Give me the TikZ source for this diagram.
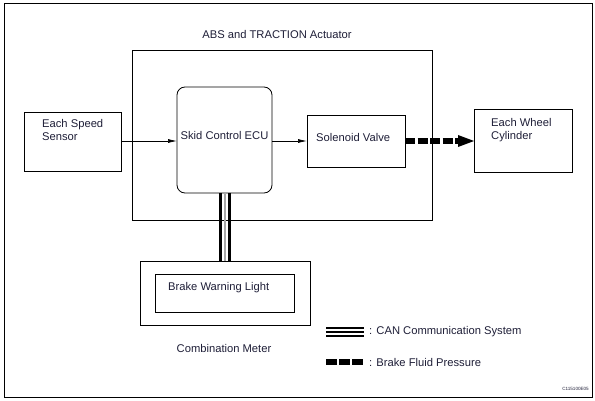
\documentclass[tikz,border=0pt]{standalone}
\usepackage{fontspec}
\setmainfont{Liberation Sans}
\usetikzlibrary{arrows.meta}
\definecolor{txt}{RGB}{30,30,55}
\begin{document}
\begin{tikzpicture}[x=1pt,y=-1pt,
  box/.style={draw,line width=0.8pt},
  lbl/.style={text=txt,font=\fontsize{11.2}{13}\selectfont,inner sep=0pt},
  sig/.style={line width=0.7pt,-{Latex[length=9pt,width=4pt]}}]
\useasboundingbox (0,0) rectangle (595,401);
\draw[line width=0.9pt] (4,3) rectangle (592,397);
% actuator
\draw[box] (132,50) rectangle (432,220);
\node[lbl] (abs) at (277,34) {ABS and TRACTION Actuator};
% speed sensor
\draw[box] (24,112) rectangle (121,171);
\coordinate (ssr) at (121,141);
\node[lbl,anchor=north west,align=left] (sstxt) at (42,119) {Each Speed\\Sensor};
% ECU
\draw[box,rounded corners=8pt] (177,87) rectangle (272,193);
\coordinate (ecul) at (177,141);
\coordinate (ecur) at (272,141);
\coordinate (ecub) at (225,193);
\node[lbl] (ecu) at (224.5,135) {Skid Control ECU};
% solenoid
\draw[box] (307,115) rectangle (405,167);
\coordinate (soll) at (307,141);
\coordinate (solr) at (405,141);
\node[lbl,anchor=west] (sol) at (316,137) {Solenoid Valve};
% wheel cylinder
\draw[box] (474,109) rectangle (572,172);
\coordinate (whl) at (474,141);
\node[lbl,anchor=north west,align=left] (wh) at (491,118) {Each Wheel\\Cylinder};
% arrows
\draw[sig] (ssr) -- (ecul);
\draw[sig] (ecur) -- (soll);
\draw[line width=6pt,dash pattern=on 10pt off 2.5pt] (solr) -- (459,141);
\fill (458,135) -- (474,141) -- (458,147) -- cycle;
% combination meter
\draw[box] (140,261) rectangle (310,325);
\draw[box] (155,274) rectangle (294,312);
\coordinate (cmt) at (225,261);
\node[lbl,anchor=west] (bwl) at (168,288) {Brake Warning Light};
\node[lbl] (cm) at (224,348) {Combination Meter};
% CAN lines
\draw[line width=3pt] ([xshift=-4.5pt]ecub) -- ([xshift=-4.5pt]cmt);
\draw[line width=3pt] ([xshift=4.5pt]ecub) -- ([xshift=4.5pt]cmt);
\draw[line width=1.4pt,gray!70] (ecub) -- (cmt);
% legend
\draw[line width=1.4pt] (326,328) -- (364,328);
\draw[line width=1.4pt] (326,332) -- (364,332);
\draw[line width=1.4pt] (326,336) -- (364,336);
\node[lbl,anchor=west] (l1) at (369,332) {: CAN Communication System};
\draw[line width=6pt,dash pattern=on 10.5pt off 2.5pt] (326,362) -- (364,362);
\node[lbl,anchor=west] (l2) at (369,362) {: Brake Fluid Pressure};
\node[text=txt,font=\fontsize{4.6}{5}\selectfont,inner sep=0pt,anchor=east] (code) at (589,389) {C115100E05};
\end{tikzpicture}
\end{document}
